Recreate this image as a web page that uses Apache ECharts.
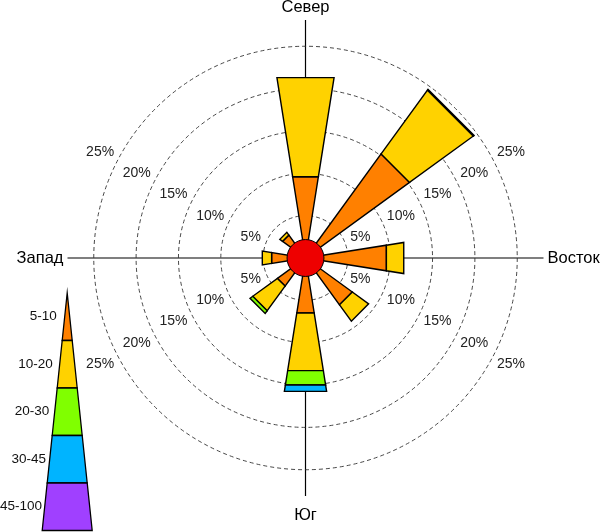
<!DOCTYPE html>
<html><head><meta charset="utf-8">
<script src="https://cdn.jsdelivr.net/npm/echarts@6/dist/echarts.min.js"></script>
<style>html,body{margin:0;padding:0;background:#fff}#c{width:600px;height:532px}</style>
</head><body><div id="c"></div>
<script>
// ---- data ----
const directionAngles = [0, 45, 90, 135, 180, 225, 270, 315];
const speedBins = ['5-10', '10-20', '20-30', '30-45', '45-100'];
const freq5_10   = [9.6, 15.0, 9.55, 6.75, 6.5, 4.05, 4.0, 3.3];
const freq10_20  = [11.7, 9.2, 2.05, 2.35, 6.8, 3.55, 1.1, 0.4];
const freq20_30  = [0, 0.1, 0, 0, 1.7, 0.4, 0, 0];
const freq30_45  = [0, 0, 0, 0, 0.75, 0, 0, 0];
const freq45_100 = [0, 0, 0, 0, 0, 0, 0, 0];
const calmValue = 2.18;
const ringValues = [5, 10, 15, 20, 25];
const ringLabels = ['5%', '10%', '15%', '20%', '25%'];
const cardinalAngles = [0, 90, 180, 270];
const cardinalLabels = ['Север', 'Восток', 'Юг', 'Запад'];
const axisMax = 28.1;

// ---- styles ----
const binColors = ['#FF8000', '#FFD200', '#80FF00', '#00B4FF', '#A040FF'];
const FONT = 'Liberation Sans, Arial, Helvetica, sans-serif';
const HALF = 9;

const allBins = [freq5_10, freq10_20, freq20_30, freq30_45, freq45_100];
const barData = [];
directionAngles.forEach((a, i) => {
  let r = 0;
  allBins.forEach((arr, b) => {
    const v = arr[i];
    if (v > 0) { barData.push([r + v, a, r, b]); r += v; }
  });
});

const norm = a => (a % 360 + 360) % 360;

const chart = echarts.init(document.getElementById('c'));

// legend graphic
const apexX = 67.2, apexY = 293, segH = 47.5, segW = 5;
const labelRight = [56.7, 52.7, 49.3, 46, 42];
const legendGraphic = [];
speedBins.forEach((name, k) => {
  const y0 = apexY + k * segH, y1 = apexY + (k + 1) * segH;
  const w0 = k * segW, w1 = (k + 1) * segW;
  legendGraphic.push({
    type: 'polygon',
    shape: { points: [[apexX - w0, y0], [apexX + w0, y0], [apexX + w1, y1], [apexX - w1, y1]] },
    style: { fill: binColors[k], stroke: '#000', lineWidth: 1.3 }
  });
  legendGraphic.push({
    type: 'text', x: labelRight[k], y: (y0 + y1) / 2,
    style: { text: name, font: '13.5px ' + FONT, fill: '#111', align: 'right', verticalAlign: 'middle' }
  });
});

chart.setOption({
  animation: false,
  backgroundColor: '#fff',
  polar: { center: [305.5, 258], radius: 238 },
  angleAxis: { type: 'value', min: 0, max: 360, startAngle: 90, clockwise: true, show: false },
  radiusAxis: { type: 'value', min: 0, max: axisMax, show: false },
  graphic: legendGraphic,
  series: [
    {
      type: 'custom', coordinateSystem: 'polar', z: 1,
      data: cardinalAngles.map((a, i) => [axisMax, a, i]),
      renderItem: (params, api) => {
        const a = api.value(1), i = api.value(2);
        const c = api.coord([0, a]);
        const p = api.coord([api.value(0), a]);
        let tx = p[0], ty = p[1], al = 'center', va = 'middle';
        if (a === 0) { ty -= 4; va = 'bottom'; }
        else if (a === 90) { tx += 4; al = 'left'; }
        else if (a === 180) { ty += 11; va = 'top'; }
        else { tx -= 4; al = 'right'; }
        return {
          type: 'group', children: [
            { type: 'line', shape: { x1: c[0], y1: c[1], x2: p[0], y2: p[1] }, style: { stroke: '#000', lineWidth: 1.2 } },
            { type: 'text', x: tx, y: ty, style: { text: cardinalLabels[i], font: '16.5px ' + FONT, fill: '#000', align: al, verticalAlign: va } }
          ]
        };
      }
    },
    {
      type: 'custom', coordinateSystem: 'polar', z: 2,
      data: ringValues.map((v, i) => [v, 0, i]),
      renderItem: (params, api) => {
        const v = api.value(0), i = api.value(2);
        const c = api.coord([0, 0]);
        const p = api.coord([v, 90]);
        const r = Math.hypot(p[0] - c[0], p[1] - c[1]);
        const children = [{ type: 'circle', shape: { cx: c[0], cy: c[1], r: r }, style: { fill: 'none', stroke: '#333', lineWidth: 0.9, lineDash: [4, 3] } }];
        [60, 120, 240, 300].forEach(a => {
          const q = api.coord([v, a]);
          const right = a < 180;
          children.push({ type: 'text', x: q[0] + (right ? 8 : -8), y: q[1],
            style: { text: ringLabels[i], font: '14px ' + FONT, fill: '#222', align: right ? 'left' : 'right', verticalAlign: 'middle' } });
        });
        return { type: 'group', children };
      }
    },
    {
      type: 'custom', coordinateSystem: 'polar', z: 3,
      data: barData,
      renderItem: (params, api) => {
        const r1 = api.value(0), a = api.value(1), r0 = api.value(2), b = api.value(3);
        const k = 1 / Math.cos(HALF * Math.PI / 180);
        const pts = [
          api.coord([r0 * k, norm(a - HALF)]), api.coord([r1 * k, norm(a - HALF)]),
          api.coord([r1 * k, norm(a + HALF)]), api.coord([r0 * k, norm(a + HALF)])
        ];
        return { type: 'polygon', shape: { points: pts }, style: { fill: binColors[b], stroke: '#000', lineWidth: 1.4, lineJoin: 'miter' } };
      }
    },
    {
      type: 'custom', coordinateSystem: 'polar', z: 4,
      data: [[calmValue, 0]],
      renderItem: (params, api) => {
        const c = api.coord([0, 0]);
        const p = api.coord([api.value(0), 90]);
        const r = Math.hypot(p[0] - c[0], p[1] - c[1]);
        return { type: 'circle', shape: { cx: c[0], cy: c[1], r: r }, style: { fill: '#EE0000', stroke: '#000', lineWidth: 1 } };
      }
    }
  ]
});
</script></body></html>
